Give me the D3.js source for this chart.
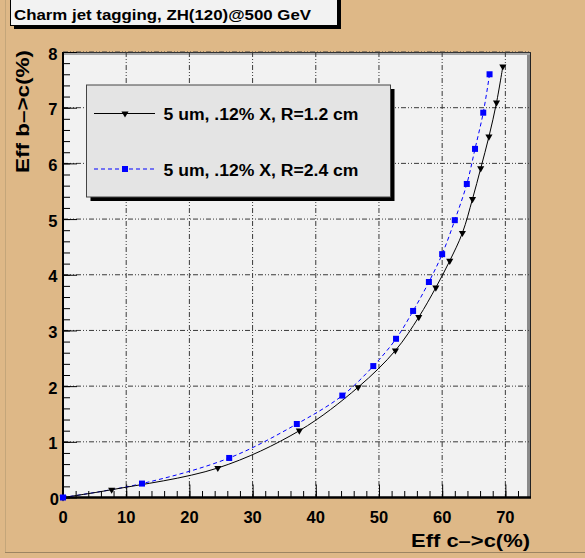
<!DOCTYPE html>
<html><head><meta charset="utf-8">
<script src="https://cdn.jsdelivr.net/npm/d3@7"></script>
<style>body{margin:0;background:#deb887;}svg{display:block;}</style>
</head><body>
<svg id="c" width="585" height="558"></svg>
<script>
const title = "Charm jet tagging, ZH(120)@500 GeV";
const xTitle = "Eff c–>c(%)";
const yTitle = "Eff b–>c(%)";
const seriesNames = ["5 um, .12% X, R=1.2 cm", "5 um, .12% X, R=2.4 cm"];
const xTicks = [0, 10, 20, 30, 40, 50, 60, 70];
const yTicks = [0, 1, 2, 3, 4, 5, 6, 7, 8];
// series 1: R=1.2 cm (black, triangles)
const effC1 = [0, 7.7, 24.5, 37.4, 46.7, 52.6, 56.3, 59.0, 61.2, 63.2, 64.8, 66.1, 67.4, 68.6, 69.6];
const effB1 = [0, 0.14, 0.53, 1.20, 1.98, 2.64, 3.24, 3.77, 4.25, 4.75, 5.36, 5.91, 6.48, 7.09, 7.74];
// series 2: R=2.4 cm (blue, squares)
const effC2 = [0, 12.5, 26.3, 37.0, 44.2, 49.1, 52.7, 55.4, 57.9, 60.0, 62.0, 63.9, 65.2, 66.5, 67.5];
const effB2 = [0, 0.25, 0.71, 1.32, 1.83, 2.36, 2.85, 3.35, 3.87, 4.37, 4.98, 5.63, 6.26, 6.91, 7.60];

const svg = d3.select("#c");
const L = 63, R = 530, T = 52, B = 497.5;
const x = d3.scaleLinear().domain([0, 73.9]).range([L, R]);
const y = d3.scaleLinear().domain([0, 8]).range([B, T]);
const font = "'Liberation Sans', Arial, Helvetica, sans-serif";

// canvas bevel lines
svg.append("line").attr("x1",5.5).attr("x2",5.5).attr("y1",0).attr("y2",553).attr("stroke","#c4a67a").attr("stroke-width",1);
svg.append("line").attr("x1",5).attr("x2",585).attr("y1",552.5).attr("y2",552.5).attr("stroke","#9c8462").attr("stroke-width",1);

// title box
svg.append("rect").attr("x",14).attr("y",-4).attr("width",327).attr("height",33).attr("fill","#000");
svg.append("rect").attr("x",10.5).attr("y",-3.5).attr("width",327).attr("height",29).attr("fill","#f2f2f2").attr("stroke","#000").attr("stroke-width",1);
svg.append("text").attr("x",14).attr("y",20).attr("font-family",font).attr("font-weight","bold")
  .attr("font-size",15).attr("textLength",297).attr("lengthAdjust","spacingAndGlyphs").text(title);

// frame
svg.append("rect").attr("x",L).attr("y",T).attr("width",R-L).attr("height",B-T).attr("fill","#f2f2f2");
svg.append("rect").attr("x",R-3).attr("y",T).attr("width",3.5).attr("height",B-T).attr("fill","#8a8a8a");
svg.append("line").attr("x1",R+0.5).attr("x2",R+0.5).attr("y1",T).attr("y2",B).attr("stroke","#222");
svg.append("rect").attr("x",L).attr("y",T).attr("width",R-L).attr("height",3).attr("fill","#a8a8a8");
svg.append("line").attr("x1",L).attr("x2",R+1).attr("y1",T+0.5).attr("y2",T+0.5).attr("stroke","#333");

// grid
const g = svg.append("g");
xTicks.filter(d=>d>0).forEach(d=>{
  g.append("line").attr("x1",x(d)).attr("x2",x(d)).attr("y1",T).attr("y2",B)
   .attr("stroke","#3a3a3a").attr("stroke-width",1).attr("stroke-dasharray","5,2,1,2,1,2");
});
yTicks.filter(d=>d>0).forEach(d=>{
  g.append("line").attr("x1",L).attr("x2",R).attr("y1",y(d)).attr("y2",y(d))
   .attr("stroke","#3a3a3a").attr("stroke-width",1).attr("stroke-dasharray","5,2,1,2,1,2");
});

// ticks via d3 axes (inward)
const xMinor = d3.range(0, 74, 2);
const yMinor = d3.range(0, 8.001, 0.2);
svg.append("g").attr("transform",`translate(0,${B})`)
  .call(d3.axisTop(x).tickValues(xMinor).tickSize(6.5).tickFormat(""))
  .call(a=>a.select(".domain").remove())
  .call(a=>a.selectAll("line").attr("stroke","#000"));
svg.append("g").attr("transform",`translate(0,${B})`)
  .call(d3.axisTop(x).tickValues(xTicks).tickSize(13).tickFormat(""))
  .call(a=>a.select(".domain").remove())
  .call(a=>a.selectAll("line").attr("stroke","#000"));
svg.append("g").attr("transform",`translate(${L},0)`)
  .call(d3.axisRight(y).tickValues(yMinor).tickSize(7).tickFormat(""))
  .call(a=>a.select(".domain").remove())
  .call(a=>a.selectAll("line").attr("stroke","#000"));
svg.append("g").attr("transform",`translate(${L},0)`)
  .call(d3.axisRight(y).tickValues(yTicks).tickSize(14).tickFormat(""))
  .call(a=>a.select(".domain").remove())
  .call(a=>a.selectAll("line").attr("stroke","#000"));

// axis lines
svg.append("line").attr("x1",L).attr("x2",L).attr("y1",T).attr("y2",B+1).attr("stroke","#000").attr("stroke-width",2);
svg.append("line").attr("x1",L-1).attr("x2",R+1).attr("y1",B).attr("y2",B).attr("stroke","#000").attr("stroke-width",2.5);

// tick labels
xTicks.forEach(d=>{
  svg.append("text").attr("x",x(d)).attr("y",523).attr("text-anchor","middle")
    .attr("font-family",font).attr("font-weight","bold").attr("font-size",16.5).text(d);
});
yTicks.forEach(d=>{
  svg.append("text").attr("x",d===0?59:57.5).attr("y",y(d)+7.5).attr("text-anchor","end")
    .attr("font-family",font).attr("font-weight","bold").attr("font-size",16.5).text(d);
});

// axis titles
svg.append("text").attr("x",530).attr("y",547).attr("text-anchor","end")
  .attr("font-family",font).attr("font-weight","bold").attr("font-size",19)
  .attr("textLength",119).attr("lengthAdjust","spacingAndGlyphs").text(xTitle);
svg.append("text").attr("transform","translate(29,50) rotate(-90)").attr("text-anchor","end")
  .attr("font-family",font).attr("font-weight","bold").attr("font-size",19)
  .attr("textLength",123).attr("lengthAdjust","spacingAndGlyphs").text(yTitle);

// curves
const d1 = effC1.map((v,i)=>[v, effB1[i]]);
const d2 = effC2.map((v,i)=>[v, effB2[i]]);
const line = d3.line().x(d=>x(d[0])).y(d=>y(d[1])).curve(d3.curveCatmullRom.alpha(0.5));
svg.append("path").attr("d",line(d2)).attr("fill","none").attr("stroke","#0000ff").attr("stroke-width",1).attr("stroke-dasharray","4,3");
svg.append("path").attr("d",line(d1)).attr("fill","none").attr("stroke","#000").attr("stroke-width",1);

const tri = d3.symbol().type(d3.symbolTriangle).size(22);
svg.append("g").selectAll("path").data(d1).join("path")
  .attr("d",tri).attr("transform",d=>`translate(${x(d[0])},${y(d[1])}) rotate(180)`).attr("fill","#000");
svg.append("g").selectAll("rect").data(d2).join("rect")
  .attr("x",d=>x(d[0])-3).attr("y",d=>y(d[1])-3).attr("width",6).attr("height",6).attr("fill","#0000ff");

// legend
const lx = 86.5, ly = 85, lw = 304, lh = 112;
svg.append("rect").attr("x",lx+4).attr("y",ly+4).attr("width",lw).attr("height",lh).attr("fill","#000");
svg.append("rect").attr("x",lx).attr("y",ly).attr("width",lw).attr("height",lh).attr("fill","#e4e4e4").attr("stroke","#444").attr("stroke-width",1);
const entries = [
  {name: seriesNames[0], yy: 113.5, color:"#000", dash:null, mk:"tri"},
  {name: seriesNames[1], yy: 169, color:"#0000ff", dash:"4,3", mk:"sq"}
];
entries.forEach(e=>{
  svg.append("line").attr("x1",94).attr("x2",155).attr("y1",e.yy).attr("y2",e.yy)
    .attr("stroke",e.color).attr("stroke-width",1).attr("stroke-dasharray",e.dash);
  if (e.mk==="tri") svg.append("path").attr("d",tri).attr("transform",`translate(125,${e.yy}) rotate(180)`).attr("fill","#000");
  else svg.append("rect").attr("x",122).attr("y",e.yy-3).attr("width",6).attr("height",6).attr("fill","#0000ff");
  svg.append("text").attr("x",163.5).attr("y",e.yy+6.5).attr("font-family",font).attr("font-weight","bold")
    .attr("font-size",16).attr("textLength",195).attr("lengthAdjust","spacingAndGlyphs").text(e.name);
});
</script>
</body></html>
